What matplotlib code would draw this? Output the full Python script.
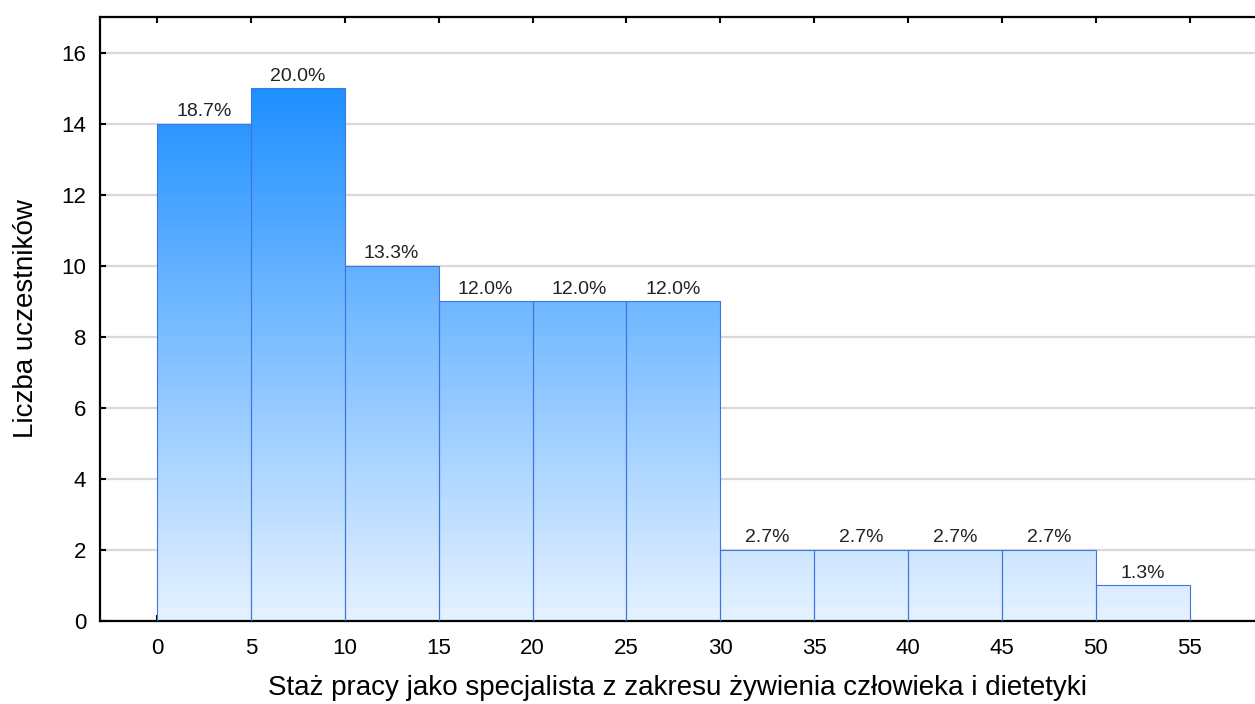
import numpy as np
import matplotlib
matplotlib.use('Agg')
import matplotlib.pyplot as plt
from matplotlib.colors import LinearSegmentedColormap

plt.rcParams['font.family'] = ['Liberation Sans', 'DejaVu Sans']

# histogram data (years of work, bins of 5)
bin_edges = [0, 5, 10, 15, 20, 25, 30, 35, 40, 45, 50, 55]
counts = [14, 15, 10, 9, 9, 9, 2, 2, 2, 2, 1]
x_ticks = [0, 5, 10, 15, 20, 25, 30, 35, 40, 45, 50, 55]
y_ticks = [0, 2, 4, 6, 8, 10, 12, 14, 16]

total = sum(counts)
labels = ['{:.1f}%'.format(100.0 * c / total) for c in counts]

fig = plt.figure(figsize=(12.55, 7.04), dpi=100)
ax = fig.add_axes([100 / 1255, 83 / 704, 1155 / 1255, 604 / 704])

x_left = -3.03
x_right = x_left + 1155 / 18.78

cmap = LinearSegmentedColormap.from_list('grad', ['#e6f2ff', '#1e90ff'])
grad = np.linspace(0, 1, 256).reshape(-1, 1)

lefts = bin_edges[:-1]
widths = np.diff(bin_edges)
bars = ax.bar(lefts, counts, width=widths, align='edge', facecolor='none',
              edgecolor='#3f74e4', linewidth=0.8, zorder=3)

for b in bars:
    im = ax.imshow(grad, cmap=cmap, origin='lower', aspect='auto',
                   extent=[x_left, x_right, 0, 15], zorder=2)
    im.set_clip_path(b)

ax.set_xlim(x_left, x_right)
ax.set_ylim(0, 17)

for b, lab in zip(bars, labels):
    ax.text(b.get_x() + b.get_width() / 2, b.get_height() + 0.1, lab,
            ha='center', va='bottom', fontsize=14, color='#222222', zorder=4)

ax.set_yticks(y_ticks)
ax.set_xticks(x_ticks)
ax.yaxis.grid(True, color='#d9d9d9', linewidth=1.6, zorder=0)
ax.set_axisbelow(True)

ax.tick_params(axis='both', direction='in', length=4, width=1.5,
               labelsize=16, colors='black')
ax.tick_params(axis='x', top=True, pad=12)
ax.tick_params(axis='y', pad=10)

for s in ['left', 'top', 'bottom']:
    ax.spines[s].set_linewidth(1.6)
ax.spines['right'].set_visible(False)

ax.set_xlabel('Staż pracy jako specjalista z zakresu żywienia człowieka i dietetyki',
              fontsize=20, labelpad=12)
ax.set_ylabel('Liczba uczestników', fontsize=20, labelpad=16)

fig.savefig('out.png', dpi=100)
